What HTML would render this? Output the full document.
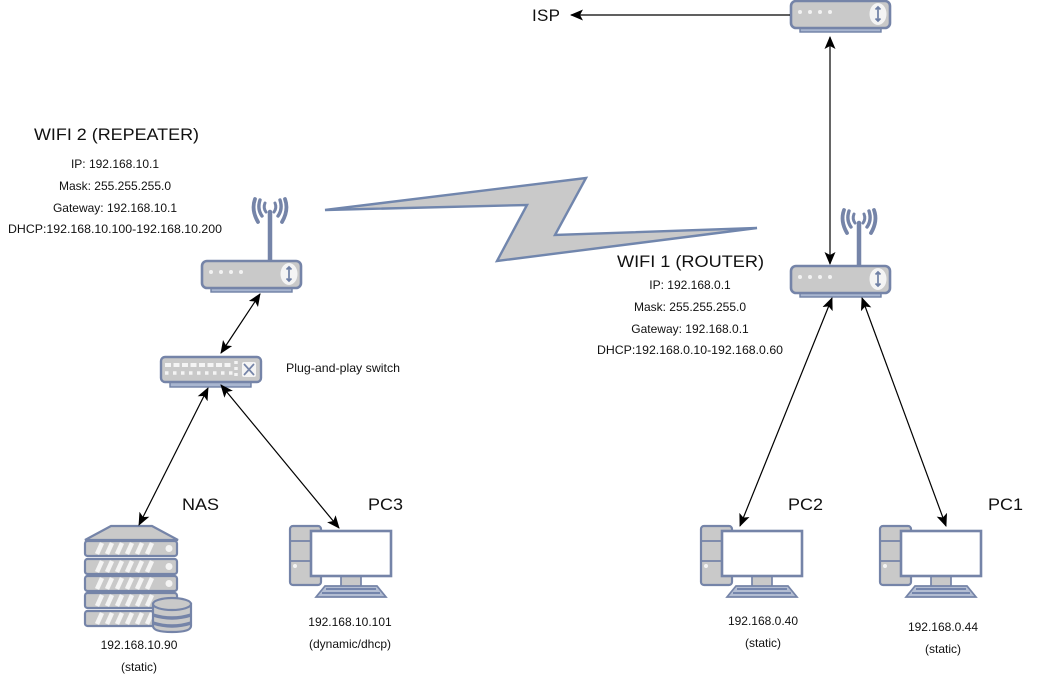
<!DOCTYPE html>
<html><head><meta charset="utf-8"><style>
html,body{margin:0;padding:0;background:#fff}
svg{display:block;font-family:"Liberation Sans",sans-serif;fill:#111}
</style></head><body>
<svg width="1041" height="677" viewBox="0 0 1041 677">
<defs>
<marker id="a" markerWidth="14" markerHeight="12" refX="12" refY="5.500" orient="auto-start-reverse" markerUnits="userSpaceOnUse"><path d="M0 0L13 5.500L0 11L3 5.500z" fill="#000"/></marker>
<g id="router">
<rect x="10" y="27" width="81" height="5" fill="#a9b6d0" stroke="#6f80a5" stroke-width="1.400"/>
<rect x="1" y="1" width="99" height="27" rx="5" fill="#c9c9c9" stroke="#7584a8" stroke-width="2.600"/>
<g fill="#f2f2f2"><circle cx="10" cy="12" r="2"/><circle cx="20" cy="12" r="2"/><circle cx="30" cy="12" r="2"/><circle cx="40" cy="12" r="2"/></g>
<ellipse cx="88" cy="14" rx="8.500" ry="11" fill="#f4f4f4"/>
<path d="M88 7V21M85.500 9.500L88 7L90.500 9.500M85.500 18.500L88 21L90.500 18.500" stroke="#6f80a5" stroke-width="1.700" fill="none"/>
</g>
<g id="antenna" fill="none" stroke="#7584a8" stroke-linecap="round">
<path d="M0 0V49" stroke-width="4.500"/>
<path d="M-5 -9Q-7 -4 -4 0M5 -9Q7 -4 4 0" stroke-width="3"/>
<path d="M-10 -12Q-13 -3 -8 4M10 -12Q13 -3 8 4" stroke-width="3.400"/>
<path d="M-15 -13Q-19 -2 -12 10M15 -13Q19 -2 12 10" stroke-width="3.800"/>
</g>
<g id="pc">
<rect x="1" y="1" width="31" height="59" rx="3" fill="#c9c9c9" stroke="#7584a8" stroke-width="2.200"/>
<path d="M1 16H32M1 36H32" stroke="#7584a8" stroke-width="1.700"/>
<circle cx="6" cy="41" r="2" fill="#f4f4f4"/>
<rect x="52" y="50" width="20" height="12" fill="#c9c9c9" stroke="#7584a8" stroke-width="1.700"/>
<rect x="22" y="6" width="80" height="45" fill="#fff" stroke="#7584a8" stroke-width="2.600"/>
<path d="M36 61H88L97 72H27z" fill="#b3bdd2" stroke="#7584a8" stroke-width="1.700"/>
<path d="M37 64H87M33 68H91" stroke="#5f73a0" stroke-width="1.400"/>
</g>
<g id="row">
<rect width="92" height="15" rx="2.500" fill="#c9c9c9" stroke="#7584a8" stroke-width="2.200"/>
<path d="M12 13L17 2M22 13L27 2M32 13L37 2M42 13L47 2M52 13L57 2M62 13L67 2" stroke="#f4f4f4" stroke-width="4.500"/>
<circle cx="84" cy="7.500" r="3.500" fill="#f4f4f4"/>
</g>
</defs>

<!-- lightning -->
<path d="M325 210L586 178L555 235L757 228L497 261L527 205z" fill="#c9c9c9" stroke="#7186ad" stroke-width="2.400" stroke-linejoin="miter"/>

<!-- routers -->
<use href="#router" x="790" y="0"/>
<use href="#antenna" x="270" y="212"/>
<use href="#router" x="201" y="260"/>
<use href="#antenna" x="859" y="223"/>
<use href="#router" x="790" y="265"/>

<!-- switch -->
<rect x="170" y="381" width="81" height="6" fill="#a9b6d0" stroke="#6f80a5" stroke-width="1.400"/>
<rect x="161" y="357" width="100" height="25" rx="4" fill="#c9c9c9" stroke="#7584a8" stroke-width="2.400"/>
<path d="M165 365H233" stroke="#f4f4f4" stroke-width="4" stroke-dasharray="6 2.500"/>
<path d="M165 373H233" stroke="#f4f4f4" stroke-width="3.500" stroke-dasharray="3.500 4.500"/>
<path d="M236 361V377" stroke="#f4f4f4" stroke-width="3.500" stroke-dasharray="3 3"/>
<rect x="242" y="362" width="14" height="15" rx="2" fill="#f4f4f4"/>
<path d="M244 364L254 375M254 364L244 375" stroke="#7584a8" stroke-width="1.700"/>

<!-- NAS -->
<path d="M85 540L111 526H152L178 540z" fill="#c9c9c9" stroke="#7584a8" stroke-width="2.200"/>
<use href="#row" x="85" y="541"/>
<use href="#row" x="85" y="559"/>
<use href="#row" x="85" y="576"/>
<use href="#row" x="85" y="593"/>
<use href="#row" x="85" y="611"/>
<path d="M153 604V626Q153 632 172 632Q191 632 191 626V604z" fill="#c9c9c9" stroke="#7584a8" stroke-width="2.200"/>
<ellipse cx="172" cy="604" rx="19" ry="6" fill="#c9c9c9" stroke="#7584a8" stroke-width="2.200"/>
<path d="M153 615Q172 621 191 615M153 623Q172 629 191 623" fill="none" stroke="#7584a8" stroke-width="3.400"/>

<!-- PCs -->
<use href="#pc" x="289" y="525"/>
<use href="#pc" x="700" y="525"/>
<use href="#pc" x="879" y="525"/>

<!-- connectors -->
<g stroke="#000" stroke-width="1.200" fill="none">
<path d="M790 15L571 15" marker-end="url(#a)"/>
<path d="M830 37V264" marker-start="url(#a)" marker-end="url(#a)"/>
<path d="M260 294L221 353" marker-start="url(#a)" marker-end="url(#a)"/>
<path d="M208 388L139 525" marker-start="url(#a)" marker-end="url(#a)"/>
<path d="M221 385L339 528" marker-start="url(#a)" marker-end="url(#a)"/>
<path d="M832 298L740 526" marker-start="url(#a)" marker-end="url(#a)"/>
<path d="M862 298L946 526" marker-start="url(#a)" marker-end="url(#a)"/>
</g>

<!-- text -->
<g font-size="17">
<text x="532" y="21" textLength="28">ISP</text>
<text x="34" y="140" textLength="165" lengthAdjust="spacingAndGlyphs">WIFI 2 (REPEATER)</text>
<text x="617" y="267" textLength="147" lengthAdjust="spacingAndGlyphs">WIFI 1 (ROUTER)</text>
<text x="182" y="510" textLength="37" lengthAdjust="spacingAndGlyphs">NAS</text>
<text x="368" y="510" textLength="35" lengthAdjust="spacingAndGlyphs">PC3</text>
<text x="788" y="510" textLength="35" lengthAdjust="spacingAndGlyphs">PC2</text>
<text x="988" y="510" textLength="35" lengthAdjust="spacingAndGlyphs">PC1</text>
</g>
<g font-size="12" text-anchor="middle">
<text x="115" y="168">IP: 192.168.10.1</text>
<text x="115" y="190">Mask: 255.255.255.0</text>
<text x="115" y="212">Gateway: 192.168.10.1</text>
<text x="115" y="233" textLength="214" lengthAdjust="spacingAndGlyphs">DHCP:192.168.10.100-192.168.10.200</text>
<text x="690" y="289">IP: 192.168.0.1</text>
<text x="690" y="311">Mask: 255.255.255.0</text>
<text x="690" y="333">Gateway: 192.168.0.1</text>
<text x="690" y="354" textLength="186" lengthAdjust="spacingAndGlyphs">DHCP:192.168.0.10-192.168.0.60</text>
<text x="343" y="372" textLength="114" lengthAdjust="spacingAndGlyphs">Plug-and-play switch</text>
<text x="139" y="649">192.168.10.90</text>
<text x="139" y="671">(static)</text>
<text x="350" y="626">192.168.10.101</text>
<text x="350" y="648">(dynamic/dhcp)</text>
<text x="763" y="625">192.168.0.40</text>
<text x="763" y="647">(static)</text>
<text x="943" y="631">192.168.0.44</text>
<text x="943" y="653">(static)</text>
</g>
</svg>
</body></html>
